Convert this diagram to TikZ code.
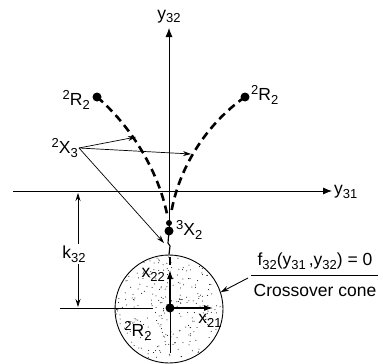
\documentclass[tikz,border=0pt]{standalone}
\usepackage{fontspec}
\setmainfont{Liberation Sans}
\usetikzlibrary{arrows.meta,calc}
\newcommand\lsb[1]{\raisebox{-3.5pt}{\fontsize{13}{14}\selectfont #1}}
\newcommand\lsp[1]{\raisebox{6pt}{\fontsize{13}{14}\selectfont #1}}
\begin{document}
\begin{tikzpicture}[x=1pt,y=-1pt,
  lab/.style={font=\fontsize{17.5}{19}\selectfont, inner sep=1pt},
  axis/.style={line width=0.8pt,-{Latex[length=9pt,width=7pt]}},
  thin/.style={line width=0.7pt},
  ptr/.style={line width=0.7pt,-{Stealth[length=8pt,width=5pt]}},
  traj/.style={line width=2.6pt,dash pattern=on 8pt off 5pt},
  blob/.style={circle,fill=black,inner sep=0pt,minimum size=#1}]
\useasboundingbox (0,0) rectangle (383,364);
% coordinates
\coordinate (o) at (169,191);
\coordinate (ytop) at (169,28);
\coordinate (xl) at (13,191);
\coordinate (xr) at (332,191);
\coordinate (c) at (169,309);
% stipple
\pgfmathsetseed{23}
\foreach \i in {1,...,260}{
  \pgfmathsetmacro\rr{53*sqrt(rnd)}
  \pgfmathsetmacro\aa{360*rnd}
  \fill[shift={(c)}] (\aa:\rr) circle (0.5pt);
}
\node[circle,draw,line width=0.9pt,minimum size=108pt,inner sep=0pt] (cone) at (c) {};
% axes
\draw[axis] (xl) -- (xr);
\draw[axis] (169,231) -- (ytop);
\node[lab,anchor=south] (ly32) at (169,24) {y\lsb{32}};
\node[lab,anchor=west] (ly31) at (333,192) {y\lsb{31}};
% endpoints
\node[blob=9pt] (r2l) at (97,97) {};
\node[blob=9pt] (r2r) at (245,97) {};
\node[lab,anchor=east] (lr2l) at (91,100) {\lsp{2}R\lsb{2}};
\node[lab,anchor=west] (lr2r) at (250,95) {\lsp{2}R\lsb{2}};
% trajectories
\draw[traj] (r2l.center) .. controls (130,125) and (158,170) .. (167,214);
\draw[traj] (r2r.center) .. controls (205,125) and (178,170) .. (171,214);
% 3X2
\node[blob=6pt] (x2a) at (169,223) {};
\node[blob=9pt] (x2) at (169,231) {};
\node[lab,anchor=west] (lx2) at (175,230) {\lsp{3}X\lsb{2}};
\coordinate (kink1) at (168,243);
\coordinate (kink2) at (170,246);
\draw[line width=1.2pt] (x2.center) -- (kink1) -- (kink2) -- (cone.north);
% 2X3 pointers
\node[lab,anchor=east] (lx3) at (79,148) {\lsp{2}X\lsb{3}};
\coordinate (p1) at (136,137);
\coordinate (p2) at (191,154);
\coordinate (p3) at (164,243);
\draw[ptr] (lx3.east) -- (p1);
\draw[ptr] (lx3.east) -- (p2);
\draw[ptr] (lx3.east) -- (p3);
% inside circle
\node[blob=9pt] (cc) at (170,308) {};
\coordinate (x21tip) at (213,308);
\coordinate (x22tip) at (170,270);
\draw[line width=1.1pt,-{Latex[length=9pt,width=6pt]}] (cc.center) -- (x21tip);
\draw[line width=1.1pt,-{Latex[length=9pt,width=6pt]}] (cc.center) -- (x22tip);
\coordinate (d1) at (170,257);
\coordinate (d2) at (170,265);
\draw[line width=1.6pt] (d1) -- (d2);
\coordinate (cbot) at (170,353);
\draw[thin] (cc.center) -- (cbot);
\coordinate (bl) at (60,308);
\coordinate (br) at (153,308);
\draw[thin] (bl) -- (br);
\node[lab,anchor=east] (lx22) at (166,275) {x\lsb{22}};
\node[lab] (lx21) at (210,321) {x\lsb{21}};
\node[lab] (lr2c) at (138,331) {\lsp{2}R\lsb{2}};
% k32 dimension
\coordinate (k1) at (78,193);
\coordinate (k2) at (78,307);
\draw[thin,{Stealth[length=8pt,width=5pt]}-{Stealth[length=8pt,width=5pt]}] (k1) -- (k2);
\node[lab,fill=white,inner sep=2pt] (lk) at (74,254) {k\lsb{32}};
% formula
\node[lab] (fml) at (315,261) {f\lsb{32}(y\lsb{31}\,,y\lsb{32}) = 0};
\coordinate (fl) at (251,275);
\coordinate (fr) at (378,275);
\draw[thin] (fl) -- (fr);
\node[lab] (cross) at (315,290) {Crossover cone};
\coordinate (fa) at (248,278);
\draw[line width=0.9pt,-{Stealth[length=8pt,width=5pt]}] (fa) -- (cone.18);
\end{tikzpicture}
\end{document}
